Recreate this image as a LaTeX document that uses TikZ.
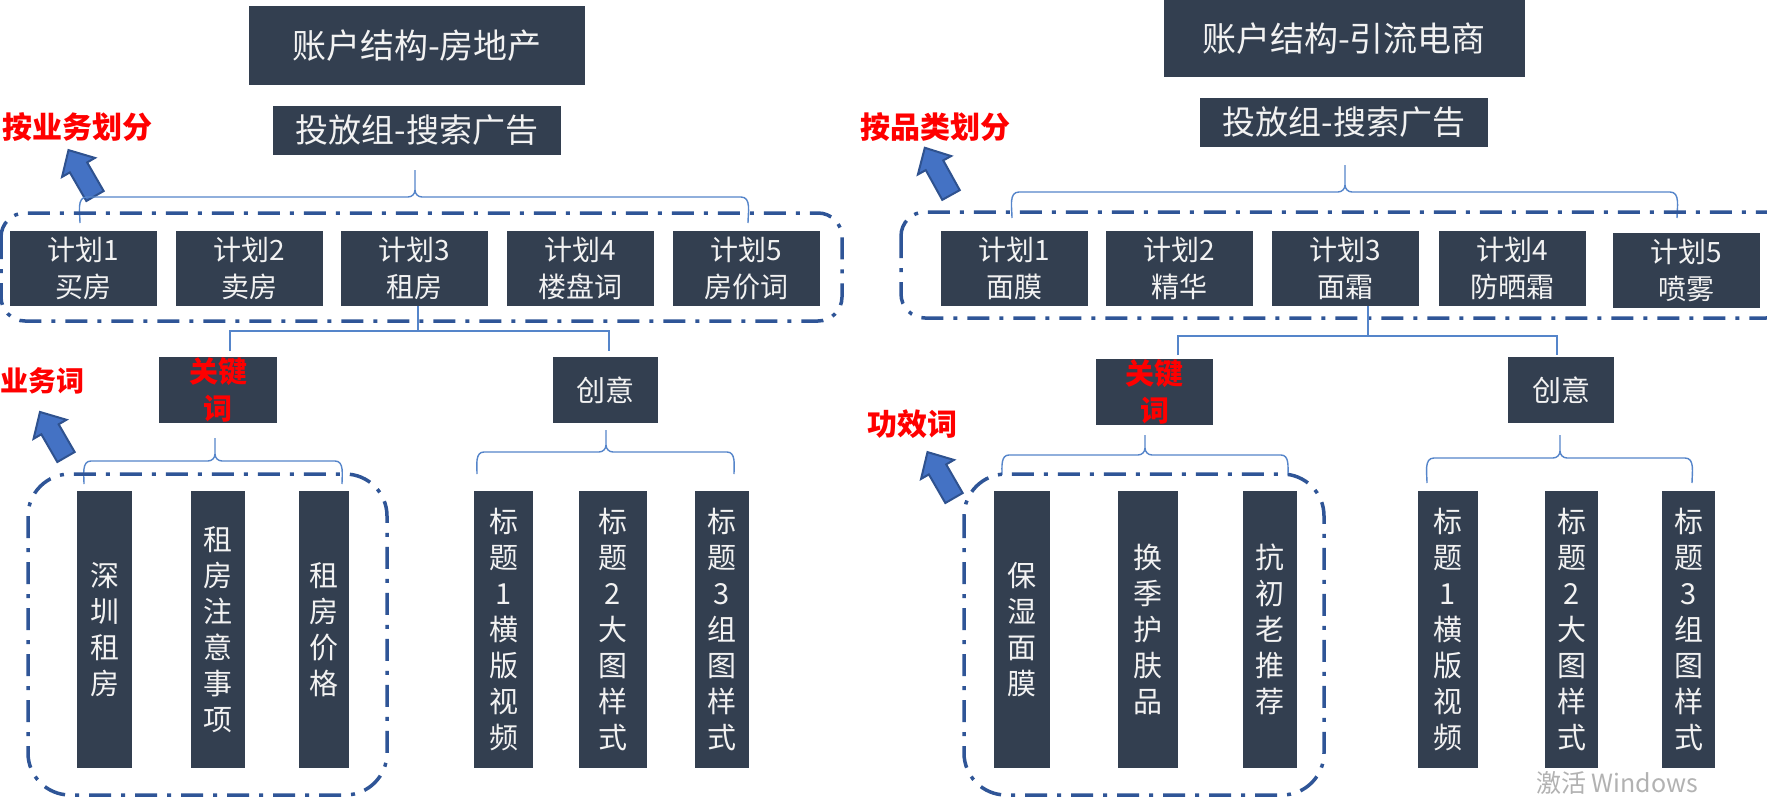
\documentclass[tikz,border=0pt]{standalone}
\usepackage{fontspec}
\setmainfont{Noto Sans CJK SC}
\definecolor{boxc}{HTML}{333F50}
\definecolor{txtc}{HTML}{F2F2F2}
\definecolor{brc}{HTML}{5585CA}
\definecolor{ddc}{HTML}{2F5597}
\definecolor{arrf}{HTML}{4472C4}
\definecolor{arrd}{HTML}{2F528F}
\definecolor{redl}{HTML}{FF0000}
\tikzset{
  box/.style={fill=boxc, text=txtc, inner sep=0pt, align=center},
  titletxt/.style={font=\fontsize{34}{40}\selectfont},
  subtxt/.style={font=\fontsize{33}{38}\selectfont},
  plan/.style={box, minimum width=147pt, minimum height=75pt, font=\fontsize{28}{37}\selectfont},
  midbox/.style={box, minimum height=66pt, font=\fontsize{29}{37}\selectfont},
  kwtxt/.style={text=redl, font=\bfseries\fontsize{29}{37}\selectfont},
  col/.style={box, minimum height=277pt, font=\fontsize{29}{36}\selectfont},
  redlab/.style={text=redl, inner sep=0pt, font=\bfseries\fontsize{30}{36}\selectfont},
  dd/.style={draw=ddc, line width=3.5pt, dash pattern=on 22pt off 10pt on 4pt off 10pt},
  conn/.style={draw=brc, line width=1.4pt},
  brace/.style={draw=brc, line width=1.4pt},
}
\newcommand\mybrace[6]{% x1, x2, xc, yh, yend, ytop
  \draw[brace] (#1,#5) to[out=90,in=180] (#1+7,#4) -- (#3-7,#4) to[out=0,in=-90] (#3,#4-7) -- (#3,#6);
  \draw[brace] (#3,#4-7) to[out=-90,in=180] (#3+7,#4) -- (#2-7,#4) to[out=0,in=90] (#2,#5);
}
\newcommand\blkarrow[4]{% base x, base y, angle, length
  \begin{scope}[shift={(#1,#2)},rotate=#3]
    \filldraw[fill=arrf, draw=arrd, line width=2pt, line join=miter]
      (0,-10) -- (#4-20,-10) -- (#4-20,-19) -- (#4,0) -- (#4-20,19) -- (#4-20,10) -- (0,10) -- cycle;
  \end{scope}
}
\begin{document}
\begin{tikzpicture}[x=1pt,y=-1pt]
\clip (0,0) rectangle (1767,803);
\fill[white] (0,0) rectangle (1767,803);

% ---------- left half ----------
\node[box, titletxt, minimum width=336pt, minimum height=79pt] (lt) at (417,45.5) {账户结构-房地产};
\node[box, subtxt, minimum width=288pt, minimum height=49pt] (ls) at (417,130.5) {投放组-搜索广告};
\node[redlab] (lab1) at (77,127) {按业务划分};
\blkarrow{95}{196}{120}{53}

\mybrace{80}{748}{415}{197}{223}{170}
\draw[dd, rounded corners=24pt] (1,213) rectangle (842,321);

\node[plan] (lp1) at (83.5,268.5) {计划1\\买房};
\node[plan] (lp2) at (249.5,268.5) {计划2\\卖房};
\node[plan] (lp3) at (414.5,268.5) {计划3\\租房};
\node[plan] (lp4) at (580.5,268.5) {计划4\\楼盘词};
\node[plan] (lp5) at (746,268.5) {计划5\\房价词};

\coordinate (lmid) at (418,331);
\coordinate (lkd) at (230,351);
\coordinate (lcd) at (609,351);
\draw[conn] (lmid |- lp3.south) -- (lmid);
\draw[conn] (lkd) |- (lmid) -| (lcd);

\node[midbox, minimum width=118pt, kwtxt] (lk) at (218,390) {关键\\词};
\node[midbox, minimum width=105pt] (lc) at (605.5,390) {创意};

\node[redlab, anchor=west, font=\bfseries\fontsize{28}{34}\selectfont] (lab2) at (0,381) {业务词};
\blkarrow{66}{457}{120}{52}

\mybrace{84}{342}{215}{461}{484}{438}
\mybrace{477}{734}{606}{452}{474}{430}
\draw[dd, rounded corners=42pt] (28,474) rectangle (387,795);

\node[col, minimum width=55pt] (lk1) at (104.5,629.5) {深\\圳\\租\\房};
\node[col, minimum width=54pt] (lk2) at (218,629.5) {租\\房\\注\\意\\事\\项};
\node[col, minimum width=50pt] (lk3) at (324,629.5) {租\\房\\价\\格};
\node[col, minimum width=59pt] (lc1) at (503.5,629.5) {标\\题\\1\\横\\版\\视\\频};
\node[col, minimum width=68pt] (lc2) at (613,629.5) {标\\题\\2\\大\\图\\样\\式};
\node[col, minimum width=54pt] (lc3) at (722,629.5) {标\\题\\3\\组\\图\\样\\式};

% ---------- right half ----------
\node[box, titletxt, minimum width=361pt, minimum height=77pt] (rt) at (1344,38.5) {账户结构-引流电商};
\node[box, subtxt, minimum width=288pt, minimum height=49pt] (rs) at (1344,122.5) {投放组-搜索广告};
\node[redlab] (lab3) at (935,127) {按品类划分};
\blkarrow{951}{195}{119}{54}

\mybrace{1012}{1677}{1345}{192}{218}{165}
\draw[dd, rounded corners=24pt] (901,212) rectangle (1790,318);

\node[plan] (rp1) at (1014.5,268.5) {计划1\\面膜};
\node[plan] (rp2) at (1179.5,268.5) {计划2\\精华};
\node[plan] (rp3) at (1345.5,268.5) {计划3\\面霜};
\node[plan] (rp4) at (1512,268.5) {计划4\\防晒霜};
\node[plan] (rp5) at (1686,270) {计划5\\喷雾};

\coordinate (rmid) at (1368,336);
\coordinate (rkd) at (1178,355);
\coordinate (rcd) at (1557,355);
\draw[conn] (rmid |- rp3.south) -- (rmid);
\draw[conn] (rkd) |- (rmid) -| (rcd);

\node[midbox, minimum width=117pt, kwtxt] (rk) at (1154.5,392) {关键\\词};
\node[midbox, minimum width=106pt] (rc) at (1561,390) {创意};

\node[redlab] (lab4) at (912,424) {功效词};
\blkarrow{954}{498}{120}{53}

\mybrace{1002}{1288}{1145}{455}{475}{435}
\mybrace{1427}{1692}{1560}{458}{483}{435}
\draw[dd, rounded corners=42pt] (964,474) rectangle (1324,795);

\node[col, minimum width=56pt] (rk1) at (1022,629.5) {保\\湿\\面\\膜};
\node[col, minimum width=60pt] (rk2) at (1148,629.5) {换\\季\\护\\肤\\品};
\node[col, minimum width=54pt] (rk3) at (1270,629.5) {抗\\初\\老\\推\\荐};
\node[col, minimum width=60pt] (rc1) at (1448,629.5) {标\\题\\1\\横\\版\\视\\频};
\node[col, minimum width=53pt] (rc2) at (1571.5,629.5) {标\\题\\2\\大\\图\\样\\式};
\node[col, minimum width=53pt] (rc3) at (1688.5,629.5) {标\\题\\3\\组\\图\\样\\式};

\node[text=black!30, inner sep=0pt, anchor=west, font=\fontsize{25}{30}\selectfont] (wm) at (1536,783) {激活 Windows};
\end{tikzpicture}
\end{document}
